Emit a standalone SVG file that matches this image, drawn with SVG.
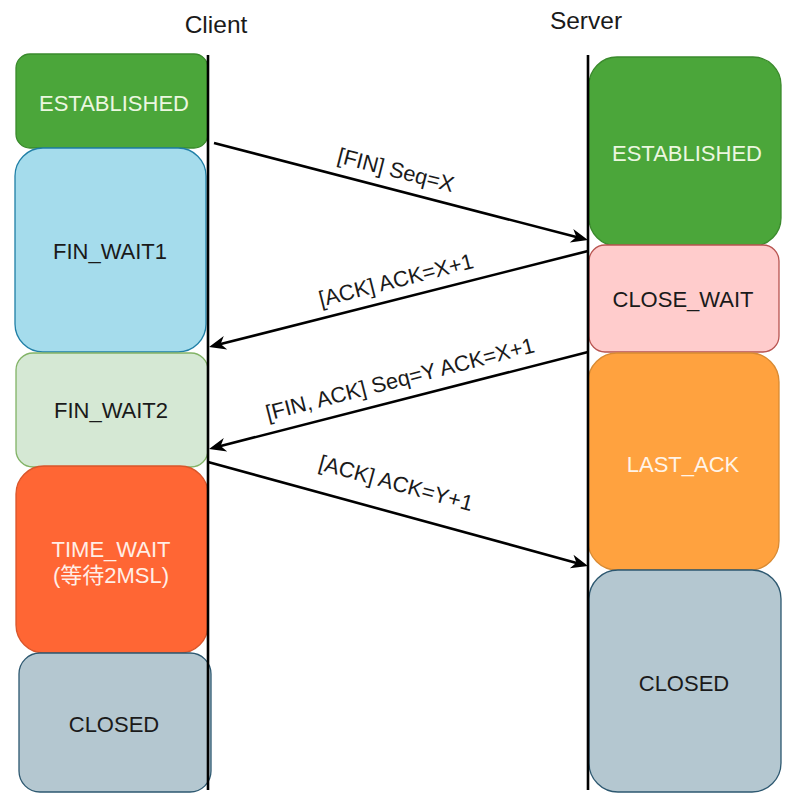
<svg xmlns="http://www.w3.org/2000/svg" width="796" height="810" viewBox="0 0 796 810">
<style>
  .t { font-family: "Liberation Sans", Arial, "Noto Sans CJK SC", sans-serif; font-size: 22px; text-anchor: middle; }
  .title { font-family: "Liberation Sans", Arial, sans-serif; font-size: 24.5px; text-anchor: middle; fill: #1a1a1a; }
  .lbl { font-family: "Liberation Sans", Arial, sans-serif; font-size: 21.8px; text-anchor: middle; fill: #1a1a1a; }
  .dark { fill: #1a1a1a; }
  .green { fill: #4ba63a; stroke: #3a8a2c; stroke-width: 1.3; }
  .blue { fill: #a5dcec; stroke: #1f7fa6; stroke-width: 1.3; }
  .lgreen { fill: #d5e8d4; stroke: #82b366; stroke-width: 1.3; }
  .red { fill: #ff6634; stroke: #d9552a; stroke-width: 1.3; }
  .grey { fill: #b4c7d0; stroke: #2d5870; stroke-width: 1.3; }
  .pink { fill: #ffcccc; stroke: #b85450; stroke-width: 1.3; }
  .orange { fill: #ffa23f; stroke: #d98a32; stroke-width: 1.3; }
  .life { stroke: #000; stroke-width: 2.6; fill: none; }
  .msg { stroke: #000; stroke-width: 2.6; fill: none; marker-end: url(#arr); }
</style>
<defs>
  <marker id="arr" viewBox="-18 -8 20 16" markerWidth="20" markerHeight="16" refX="-10" refY="0" orient="auto" markerUnits="userSpaceOnUse">
    <path d="M0,0 L-17,-7 L-12,0 L-17,7 Z" fill="#000"/>
  </marker>
</defs>
<rect width="796" height="810" fill="#ffffff"/>

<g id="title-client"><text class="title" x="216" y="33">Client</text></g>
<g id="title-server"><text class="title" x="586" y="29">Server</text></g>

<g id="c-established">
  <rect class="green" x="16" y="54" width="192" height="94" rx="14" ry="14"/>
  <text class="t" x="114" y="111" fill="#ecf7e0">ESTABLISHED</text>
</g>
<g id="c-fin-wait1">
  <rect class="blue" x="15" y="148" width="191" height="204" rx="28" ry="28"/>
  <text class="t dark" x="110" y="259">FIN_WAIT1</text>
</g>
<g id="c-fin-wait2">
  <rect class="lgreen" x="16" y="353" width="192" height="114" rx="17" ry="17"/>
  <text class="t dark" x="111" y="418">FIN_WAIT2</text>
</g>
<g id="c-time-wait">
  <rect class="red" x="16" y="466" width="192" height="187" rx="28" ry="28"/>
  <text class="t" x="111" y="557" fill="#ffeee6">TIME_WAIT</text>
  <text class="t" x="111" y="583" fill="#ffeee6">(等待2MSL)</text>
</g>
<g id="c-closed">
  <rect class="grey" x="19" y="653" width="192" height="139" rx="21" ry="21"/>
  <text class="t dark" x="114" y="732">CLOSED</text>
</g>

<g id="s-established">
  <rect class="green" x="589" y="57" width="192" height="189" rx="28" ry="28"/>
  <text class="t" x="687" y="161" fill="#ecf7e0">ESTABLISHED</text>
</g>
<g id="s-close-wait">
  <rect class="pink" x="589" y="245" width="190" height="107" rx="16" ry="16"/>
  <text class="t dark" x="683" y="307">CLOSE_WAIT</text>
</g>
<g id="s-last-ack">
  <rect class="orange" x="588" y="353" width="191" height="217" rx="29" ry="29"/>
  <text class="t" x="683" y="472" fill="#fff4e8">LAST_ACK</text>
</g>
<g id="s-closed">
  <rect class="grey" x="589" y="570" width="192" height="222" rx="29" ry="29"/>
  <text class="t dark" x="684" y="691">CLOSED</text>
</g>

<g id="connectors">
  <line class="life" x1="208" y1="55" x2="208" y2="790"/>
  <line class="life" x1="588" y1="55" x2="588" y2="790"/>
  <line class="msg" x1="214" y1="143" x2="578.3" y2="237.5"/>
  <line class="msg" x1="588" y1="251" x2="218.7" y2="344.5"/>
  <line class="msg" x1="588" y1="352" x2="218.7" y2="446.5"/>
  <line class="msg" x1="208" y1="462" x2="578.4" y2="563.4"/>
  <text class="lbl" transform="translate(396,170) rotate(14.5)" y="7.5">[FIN] Seq=X</text>
  <text class="lbl" transform="translate(396,280) rotate(-14.2)" y="7.5">[ACK] ACK=X+1</text>
  <text class="lbl" transform="translate(400,379) rotate(-14.4)" y="7.5">[FIN, ACK] Seq=Y ACK=X+1</text>
  <text class="lbl" transform="translate(396,483) rotate(15.3)" y="7.5">[ACK] ACK=Y+1</text>
</g>
</svg>
